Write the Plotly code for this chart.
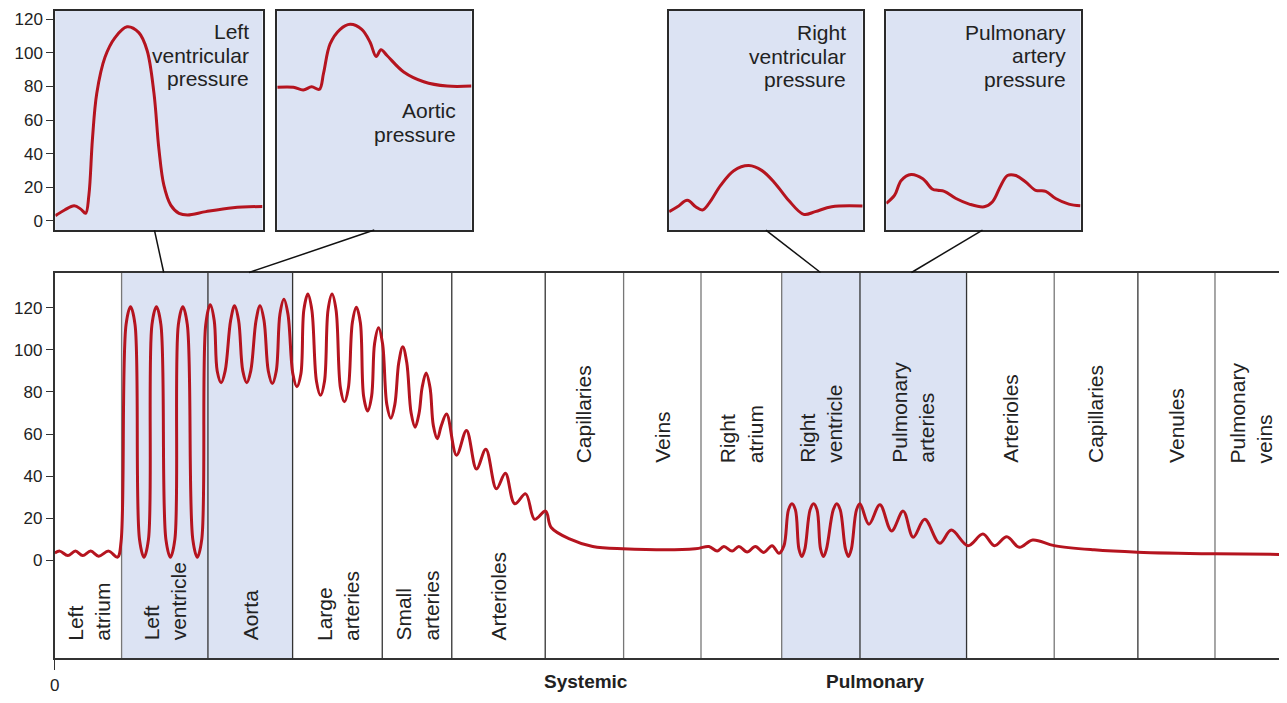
import plotly.graph_objects as go

# page offset of the plot inside the browser page (default body margin)
OFF = 8
WF, HF = 1287 - OFF, 703 - 2 * OFF
FONT = "Liberation Sans, Arial, Helvetica, sans-serif"
RED = "#b5141f"
SHADE = "rgb(220,227,243)"
INK = "#222222"

# ---------------- main chart data (position along circulation, pressure mmHg) -------------
pos = [0, 5, 13, 20.7, 28, 36, 44, 54, 63,
       66.5, 71.5, 76, 80.5, 85, 89.5, 94, 97.5, 102, 106.5, 111.5, 116,
       120.5, 124, 128.5, 133, 138.5, 143, 147.5, 151.5,
       156, 160, 163, 167, 171, 176.5, 180.5, 184.5, 188.7, 192.7, 196.7,
       202, 206, 210, 214.3, 218.3, 222.3, 226, 230, 234, 239, 243, 247,
       250, 254, 258, 262.7, 266.7, 270.7, 274.3, 278.3, 282.3, 286.7, 290.7, 294.7,
       298.7, 302.7, 306.7, 310, 314, 318, 321, 325, 329, 333.3, 337.3, 341.3,
       345.3, 349.3, 353.3, 357.7, 361.7, 365.7, 368.7, 372.7, 376.7, 380, 384, 388,
       393.3,
       403.3, 413.3, 423.3, 432.7, 443.3, 452.3, 461.7, 472.7, 481.7, 492.7,
       498.3, 516.7, 540, 570, 643,
       656.7, 665, 671.7, 680, 686.7, 695, 703.3, 711.7, 720, 727,
       732, 736.5, 740, 743.5, 747, 750, 753, 758.2, 761.7, 765.2, 768.7, 771.7,
       774.7, 781.5, 785, 788.5, 793.7, 796.7, 799.7, 804.8, 808.3,
       817.3, 828.3, 840, 851.7, 861.7, 873.3, 888.3, 900, 916.7,
       931.7, 943.3, 955.7, 968.3, 981.7,
       1003.3, 1043.3, 1087, 1164.7, 1237]
pressure = [3.5, 4.4, 2.3, 4.4, 2.3, 4.4, 2.0, 4.4, 1.5,
            9, 112, 120.5, 112, 10, 1.5, 10, 112, 120.5, 112, 10, 1.5,
            10, 112, 120.5, 112, 10, 1.5, 10, 112,
            121.4, 114, 90, 84.4, 90, 114, 121, 114, 90, 84.4, 90,
            114, 121, 114, 90, 84, 90, 117, 124, 117, 88.5, 82.5, 88.5,
            119, 126.5, 119, 85, 78.4, 85, 119, 126.5, 119, 82, 75.3, 82,
            113, 120.3, 113, 78, 71, 78, 103, 110.5, 103, 74, 67.5, 74,
            94, 101.5, 94, 70, 63.3, 70, 82, 89, 82, 64, 57.8, 64,
            69.5,
            50, 61.7, 43.4, 52.8, 34, 41.4, 26.9, 31.6, 19.5, 23.4,
            15.6, 10.2, 6.6, 5.5, 5.5,
            6.6, 4.4, 6.6, 4.4, 6.6, 4.0, 6.6, 3.8, 7.0, 3.4,
            7, 24, 26.9, 24, 5.5, 1.9, 5.5, 24, 26.9, 24, 5.5, 1.9,
            5.5, 24, 26.9, 24, 5.5, 1.9, 5.5, 24, 26.9,
            17.2, 26.4, 14, 23.4, 11, 19.5, 8.1, 14.4, 7,
            12.5, 7, 11.2, 6.2, 9.7,
            7, 5, 3.9, 3.1, 2.8]
assert len(pos) == len(pressure)

region_edges = [0, 67, 153.7, 238.7, 328.7, 398.5, 492.3, 571, 648.7,
                729.7, 808.3, 915.3, 1003.3, 1087.3, 1164.7, 1237]
region_names = ["Left<br>atrium", "Left<br>ventricle", "Aorta", "Large<br>arteries",
                "Small<br>arteries", "Arterioles", "Capillaries", "Veins",
                "Right<br>atrium", "Right<br>ventricle", "Pulmonary<br>arteries",
                "Arterioles", "Capillaries", "Venules", "Pulmonary<br>veins"]
region_shaded = [False, True, True, False, False, False, False, False,
                 False, True, True, False, False, False, False]
region_label_low = [True, True, True, True, True, True, False, False,
                    False, False, False, False, False, False, False]
edge_dark = [True, False, True, True, True, True, True, False, False,
             False, True, True, False, True, False, True]

y_ticks = [0, 20, 40, 60, 80, 100, 120]
circuit_labels = ["Systemic", "Pulmonary"]
circuit_label_px = [583, 874]

# ---------------- inset waveforms (time % of box, pressure mmHg) -------------
lv_t = [0, 4.5, 9.1, 12.3, 14.6, 16.2, 17.9, 20, 24, 28.9, 34.6, 40.3, 44.3, 47.6,
        50, 52.4, 55.7, 59.7, 63.8, 72.7, 85.7, 100]
lv_p = [3.1, 6.5, 9, 7, 4.5, 15.3, 48.5, 76, 97.5, 109.2, 115.5, 112, 101.4, 76,
        42.7, 21.1, 9.4, 4.5, 3.5, 5.5, 7.8, 8.6]

ao_t = [0, 8.3, 13.4, 17.7, 21.7, 23.8, 27.2, 32.4, 37.5, 43.5, 47.8, 50.9, 53.4,
        56.5, 65.1, 75.4, 87.4, 100]
ao_p = [79.5, 79.5, 77.9, 79.8, 78.3, 87.7, 105.3, 114, 117, 114, 106.3, 97.8, 101.8,
        98.4, 88.6, 82.8, 80.2, 80.2]

rv_t = [0, 4.3, 9.4, 13.7, 17.2, 20.6, 26.6, 33.4, 41.2, 48, 54.9, 61.7, 69.5, 75.5, 84, 100]
rv_p = [5.5, 8.4, 12.3, 8.4, 6.5, 10.4, 21.1, 29.9, 32.9, 29.9, 22.1, 12.3, 3.9, 5.5, 8.4, 8.8]

pa_t = [0, 4.3, 7.7, 12.8, 18.8, 23.9, 26.5, 29.9, 35.9, 42.7, 50.4, 54.7, 59, 62.4,
        66.7, 71.8, 76.9, 82.1, 87.2, 94, 100]
pa_p = [10.4, 15.3, 24.1, 27.6, 25, 18.8, 18.2, 17.6, 13.3, 10, 8.4, 11.4, 21.1, 27,
        27, 23.1, 18.2, 17.6, 13.3, 10, 9]

inset_titles = ["Left<br>ventricular<br>pressure", "Aortic<br>pressure",
                "Right<br>ventricular<br>pressure", "Pulmonary<br>artery<br>pressure"]
inset_series = [(lv_t, lv_p), (ao_t, ao_p), (rv_t, rv_p), (pa_t, pa_p)]

# ---------------- layout geometry (page pixels) -------------
MAIN_L, MAIN_R, MAIN_T, MAIN_B = 50, 1287, 275, 666
MAIN_Y0_PX, MAIN_PX_PER = 566.7, 2.133
INS_T, INS_B = 10, 232
INS_Y0_PX, INS_PX_PER = 222.7, 1.703
inset_boxes = [(50.5, 258.5), (273.3, 468.3), (666.7, 861), (884.7, 1079.7)]
inset_title_right = [246.7, 455, 846, 1067.3]
inset_title_base = [38.3, 118.3, 39.3, 39]
LINE_STEP = 23.5
connectors = [((150, INS_B), (159.3, MAIN_T)), ((370.7, INS_B), (245, MAIN_T)),
              ((763.8, INS_B), (818.7, MAIN_T)), ((981.3, INS_B), (910, MAIN_T))]


def fx(px):
    return min(1.0, (px - OFF) / WF)


def fy(py):
    return 1 - (py - OFF) / HF


def main_val(py):
    return (MAIN_Y0_PX - py) / MAIN_PX_PER


fig = go.Figure()

fig.add_trace(go.Scatter(x=pos, y=pressure, mode="lines",
                         line=dict(color=RED, width=3, shape="spline", smoothing=1.0),
                         hoverinfo="skip", showlegend=False, xaxis="x", yaxis="y"))

for i, (t, p) in enumerate(inset_series):
    n = i + 2
    fig.add_trace(go.Scatter(x=t, y=p, mode="lines",
                             line=dict(color=RED, width=3, shape="spline", smoothing=1.0),
                             hoverinfo="skip", showlegend=False,
                             xaxis=f"x{n}", yaxis=f"y{n}"))

shapes = []
annotations = []

for i, sh in enumerate(region_shaded):
    if sh:
        shapes.append(dict(type="rect", xref="x", yref="y domain",
                           x0=region_edges[i], x1=region_edges[i + 1], y0=0, y1=1,
                           fillcolor=SHADE, line=dict(width=0), layer="below"))
for j, e in enumerate(region_edges[1:-1], start=1):
    shapes.append(dict(type="line", xref="x", yref="y domain", x0=e, x1=e, y0=0, y1=1,
                       line=dict(color="#333333" if edge_dark[j] else "#777777", width=1.3),
                       layer="below"))

y_low = main_val(650)
y_high = main_val(470)
for i, name in enumerate(region_names):
    xc = (region_edges[i] + region_edges[i + 1]) / 2
    annotations.append(dict(xref="x", yref="y", x=xc,
                            y=y_low if region_label_low[i] else y_high,
                            text=name, textangle=-90, showarrow=False,
                            xanchor="center", yanchor="bottom", align="left",
                            font=dict(family=FONT, size=21, color=INK)))

for lab, px in zip(circuit_labels, circuit_label_px):
    annotations.append(dict(xref="paper", yref="paper", x=fx(px), y=fy(689),
                            text=f"<b>{lab}</b>", showarrow=False,
                            xanchor="center", yanchor="middle",
                            font=dict(family=FONT, size=19, color=INK)))

for i, (x0, x1) in enumerate(inset_boxes):
    n = i + 2
    shapes.append(dict(type="rect", xref=f"x{n} domain", yref=f"y{n} domain",
                       x0=0, x1=1, y0=0, y1=1, fillcolor=SHADE,
                       line=dict(width=0), layer="below"))
    for k, line in enumerate(inset_titles[i].split("<br>")):
        base = inset_title_base[i] + k * LINE_STEP
        annotations.append(dict(xref="paper", yref="paper", x=fx(inset_title_right[i]),
                                y=fy(base - 7), text=line, showarrow=False,
                                xanchor="right", yanchor="middle",
                                font=dict(family=FONT, size=21, color=INK)))

for (a, b) in connectors:
    shapes.append(dict(type="line", xref="paper", yref="paper",
                       x0=fx(a[0]), y0=fy(a[1]), x1=fx(b[0]), y1=fy(b[1]),
                       line=dict(color="#111111", width=1.5)))

layout = dict(
    width=WF, height=HF, autosize=False,
    margin=dict(l=0, r=0, t=0, b=0, pad=0),
    paper_bgcolor="white", plot_bgcolor="rgba(0,0,0,0)",
    showlegend=False,
    shapes=shapes, annotations=annotations,
    xaxis=dict(domain=[fx(MAIN_L), fx(MAIN_R)], range=[0, MAIN_R - MAIN_L],
               showgrid=False, zeroline=False, showline=True, mirror=True,
               linecolor="#333333", linewidth=2,
               tickmode="array", tickvals=[0], ticktext=["0"],
               ticks="outside", ticklen=10, tickcolor="#333333", tickwidth=1,
               tickfont=dict(family=FONT, size=17, color=INK), fixedrange=True),
    yaxis=dict(domain=[fy(MAIN_B), fy(MAIN_T)],
               range=[main_val(MAIN_B), main_val(MAIN_T)],
               showgrid=False, zeroline=False, showline=True, linecolor="#333333",
               linewidth=2, tickmode="array", tickvals=y_ticks,
               ticks="outside", ticklen=7, tickcolor="#333333", tickwidth=1.2,
               tickfont=dict(family=FONT, size=17, color=INK), fixedrange=True),
)

ins_range = [(INS_Y0_PX - INS_B) / INS_PX_PER, (INS_Y0_PX - INS_T) / INS_PX_PER]
for i, (x0, x1) in enumerate(inset_boxes):
    n = i + 2
    layout[f"xaxis{n}"] = dict(domain=[fx(x0), fx(x1)], range=[0, 100], anchor=f"y{n}",
                               showgrid=False, zeroline=False, showticklabels=False,
                               ticks="", showline=True, mirror=True,
                               linecolor="#2a2a2a", linewidth=2, fixedrange=True)
    ya = dict(domain=[fy(INS_B), fy(INS_T)], range=ins_range, anchor=f"x{n}",
              showgrid=False, zeroline=False, showline=True, mirror=True,
              linecolor="#2a2a2a", linewidth=2, fixedrange=True)
    if n == 2:
        ya.update(tickmode="array", tickvals=y_ticks, ticks="outside", ticklen=7,
                  tickcolor="#333333", tickwidth=1.2,
                  tickfont=dict(family=FONT, size=17, color=INK))
    else:
        ya.update(showticklabels=False, ticks="")
    layout[f"yaxis{n}"] = ya

fig.update_layout(**layout)
fig.write_html("out.html")
